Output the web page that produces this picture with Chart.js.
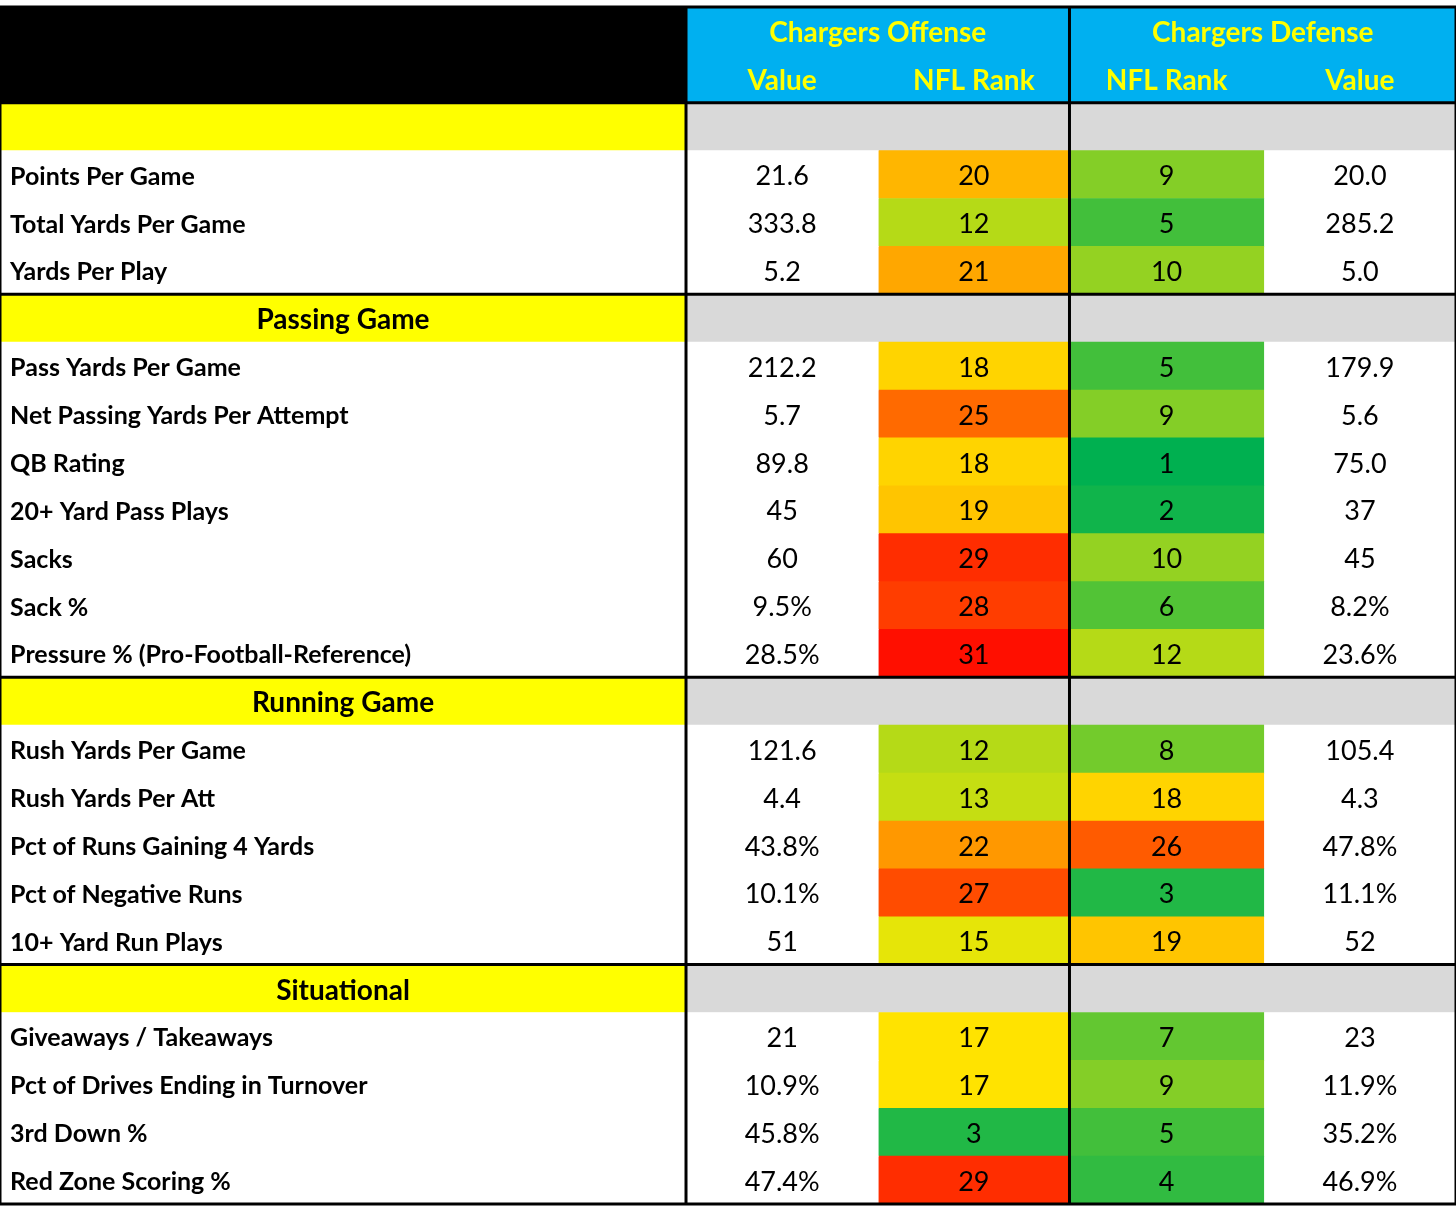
<!DOCTYPE html>
<html>
<head>
<meta charset="utf-8">
<script src="https://cdn.jsdelivr.net/npm/chart.js@4.4.1/dist/chart.umd.min.js"></script>
<style>
  html, body { margin: 0; padding: 0; background: #fff; }
  #wrap { width: 1456px; height: 1213px; }
</style>
</head>
<body>
<div id="wrap"><canvas id="statsTable"></canvas></div>
<script>
// rows: "" = blank section, "#..." = section title
const rowLabels = [
    "#", "Points Per Game", "Total Yards Per Game", "Yards Per Play",
    "#Passing Game", "Pass Yards Per Game", "Net Passing Yards Per Attempt", "QB Rating",
    "20+ Yard Pass Plays", "Sacks", "Sack %", "Pressure % (Pro-Football-Reference)",
    "#Running Game", "Rush Yards Per Game", "Rush Yards Per Att", "Pct of Runs Gaining 4 Yards",
    "Pct of Negative Runs", "10+ Yard Run Plays",
    "#Situational", "Giveaways / Takeaways", "Pct of Drives Ending in Turnover", "3rd Down %", "Red Zone Scoring %"
];
const offValue = [null, "21.6", "333.8", "5.2", null, "212.2", "5.7", "89.8", "45", "60", "9.5%", "28.5%",
    null, "121.6", "4.4", "43.8%", "10.1%", "51", null, "21", "10.9%", "45.8%", "47.4%"];
const offRank = [null, 20, 12, 21, null, 18, 25, 18, 19, 29, 28, 31, null, 12, 13, 22, 27, 15, null, 17, 17, 3, 29];
const defRank = [null, 9, 5, 10, null, 5, 9, 1, 2, 10, 6, 12, null, 8, 18, 26, 3, 19, null, 7, 9, 5, 4];
const defValue = [null, "20.0", "285.2", "5.0", null, "179.9", "5.6", "75.0", "37", "45", "8.2%", "23.6%",
    null, "105.4", "4.3", "47.8%", "11.1%", "52", null, "23", "11.9%", "35.2%", "46.9%"];
const headerTop = ["", "Chargers Offense", "Chargers Defense"];
const headerSub = ["", "Value", "NFL Rank", "NFL Rank", "Value"];

// layout (pixels on x scale)
const colEdges = [8, 686, 876, 1065, 1257, 1447];
const FONT = "Lato, 'Open Sans', sans-serif";

const cats = ["h1", "h2"].concat(rowLabels.map((r, i) => "r" + i));
const nRows = cats.length;

function rankColor(r) {
    const g = [0, 176, 80], y = [255, 235, 0], red = [255, 0, 0];
    let a, b, t;
    if (r <= 16.5) { a = g; b = y; t = (r - 1) / 15.5; } else { a = y; b = red; t = (r - 16.5) / 15.5; }
    const c = a.map((v, k) => Math.round(v + (b[k] - v) * t));
    return `rgb(${c[0]},${c[1]},${c[2]})`;
}
const isSection = i => rowLabels[i].startsWith("#");

function colData(c) { return cats.map(() => [colEdges[c], colEdges[c + 1]]); }
function colColors(c) {
    return cats.map((k, j) => {
        if (j < 2) return c === 0 ? "#000000" : "#00b0f0";
        const i = j - 2;
        if (isSection(i)) return c === 0 ? "#ffff00" : "#d9d9d9";
        if (c === 2) return rankColor(offRank[i]);
        if (c === 3) return rankColor(defRank[i]);
        return "#ffffff";
    });
}

const datasets = [0, 1, 2, 3, 4].map(c => ({
    data: colData(c),
    backgroundColor: colColors(c),
    borderWidth: 0,
    barPercentage: 1,
    categoryPercentage: 1,
    grouped: false
}));

const tablePlugin = {
    id: "tableText",
    afterDatasetsDraw(chart) {
        const ctx = chart.ctx, xs = chart.scales.x, ys = chart.scales.y;
        const X = v => xs.getPixelForValue(v);
        const step = ys.getPixelForValue(1) - ys.getPixelForValue(0);
        const Y = j => ys.getPixelForValue(j);
        const edge = j => Y(j) - step / 2;
        const midCol = c => X((colEdges[c] + colEdges[c + 1]) / 2);
        ctx.save();
        ctx.textBaseline = "middle";
        // header
        ctx.fillStyle = "#ffff00";
        ctx.font = "bold 28px " + FONT;
        ctx.textAlign = "center";
        ctx.fillText(headerTop[1], X((colEdges[1] + colEdges[3]) / 2), Y(0) + 2);
        ctx.fillText(headerTop[2], X((colEdges[3] + colEdges[5]) / 2), Y(0) + 2);
        for (let c = 1; c < 5; c++) ctx.fillText(headerSub[c], midCol(c), Y(1) + 2);
        // body
        rowLabels.forEach((lab, i) => {
            const y = Y(i + 2) + 2;
            ctx.fillStyle = "#000";
            if (isSection(i)) {
                ctx.font = "bold 28px " + FONT;
                ctx.textAlign = "center";
                ctx.fillText(lab.slice(1), midCol(0), y);
                return;
            }
            ctx.font = "bold 25px " + FONT;
            ctx.textAlign = "left";
            ctx.fillText(lab, X(18), y);
            ctx.font = "27px " + FONT;
            ctx.textAlign = "center";
            ctx.fillText(offValue[i], midCol(1), y);
            ctx.fillText(String(offRank[i]), midCol(2), y);
            ctx.fillText(String(defRank[i]), midCol(3), y);
            ctx.fillText(defValue[i], midCol(4), y);
        });
        // borders
        ctx.strokeStyle = "#000";
        ctx.lineWidth = 3;
        const top = edge(0), bottom = edge(nRows);
        const hline = j => { ctx.beginPath(); ctx.moveTo(X(colEdges[0]), edge(j)); ctx.lineTo(X(colEdges[5]), edge(j)); ctx.stroke(); };
        hline(2);
        rowLabels.forEach((lab, i) => { if (isSection(i) && i > 0) hline(i + 2); });
        [1, 3].forEach(c => { ctx.beginPath(); ctx.moveTo(X(colEdges[c]), top); ctx.lineTo(X(colEdges[c]), bottom); ctx.stroke(); });
        ctx.strokeRect(X(colEdges[0]), top, X(colEdges[5]) - X(colEdges[0]), bottom - top);
        ctx.restore();
    }
};

new Chart(document.getElementById("statsTable"), {
    type: "bar",
    data: { labels: cats, datasets: datasets },
    options: {
        indexAxis: "y",
        responsive: true,
        maintainAspectRatio: false,
        animation: false,
        layout: { padding: { left: 0, right: 0, top: 7, bottom: 9 } },
        plugins: { legend: { display: false }, tooltip: { enabled: false } },
        scales: {
            x: { type: "linear", min: 8, max: 1447, display: false },
            y: { type: "category", display: false, offset: true }
        }
    },
    plugins: [tablePlugin]
});
</script>
</body>
</html>
